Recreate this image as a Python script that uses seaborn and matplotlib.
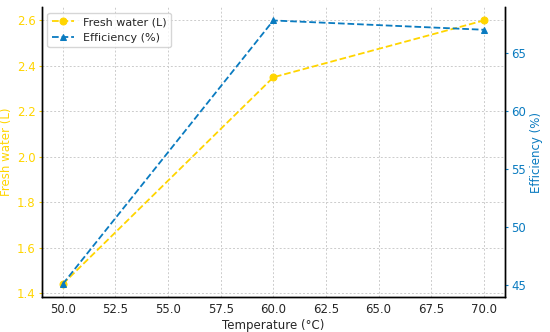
import matplotlib
matplotlib.use('Agg')
import matplotlib.pyplot as plt
import seaborn as sns
import pandas as pd

# data
temperature = [50, 60, 70]
fresh_water = [1.44, 2.35, 2.60]
efficiency = [45.1, 67.8, 67.0]

WATER_COLOR = '#FFD500'
EFF_COLOR = '#0A7BC0'

df = pd.DataFrame({'temp': temperature, 'water': fresh_water, 'eff': efficiency})

sns.set_style('white')
plt.rcParams['font.family'] = ['DejaVu Sans']
plt.rcParams['font.size'] = 8

fig, ax = plt.subplots(figsize=(5.5, 3.32), dpi=100)
ax2 = ax.twinx()

sns.lineplot(data=df, x='temp', y='water', ax=ax, color=WATER_COLOR, marker='o',
             markersize=5, markeredgecolor=WATER_COLOR, linestyle='--', linewidth=1.3,
             label='Fresh water (L)', legend=False)
sns.lineplot(data=df, x='temp', y='eff', ax=ax2, color=EFF_COLOR, marker='^',
             markersize=5, markeredgecolor=EFF_COLOR, linestyle='--', linewidth=1.3,
             label='Efficiency (%)', legend=False)

ax.set_xlabel('Temperature (°C)', fontsize=8.5, labelpad=2)
ax.set_ylabel('Fresh water (L)', color=WATER_COLOR, fontsize=8.5, labelpad=3)
ax2.set_ylabel('Efficiency (%)', color=EFF_COLOR, fontsize=8.5, labelpad=3)
ax.tick_params(axis='y', colors=WATER_COLOR, labelsize=8.5, length=2.5, pad=2)
ax.tick_params(axis='x', labelsize=8.5, length=2.5, pad=2)
ax2.tick_params(axis='y', colors=EFF_COLOR, labelsize=8.5, length=2.5, pad=2)
ax.set_xticks([50, 52.5, 55, 57.5, 60, 62.5, 65, 67.5, 70])
ax.set_xticklabels([f'{t:.1f}' for t in ax.get_xticks()])

ax.grid(True, linestyle=(0, (2, 2)), color='#cccccc', linewidth=0.7)
for a in (ax, ax2):
    for s in a.spines.values():
        s.set_color('black')
        s.set_linewidth(1.0)
    a.spines['top'].set_visible(False)

h1, l1 = ax.get_legend_handles_labels()
h2, l2 = ax2.get_legend_handles_labels()
ax.legend(h1 + h2, l1 + l2, loc='upper left', fontsize=8, frameon=True)

fig.subplots_adjust(left=0.076, right=0.918, top=0.978, bottom=0.105)
fig.savefig('out.png', dpi=100)
